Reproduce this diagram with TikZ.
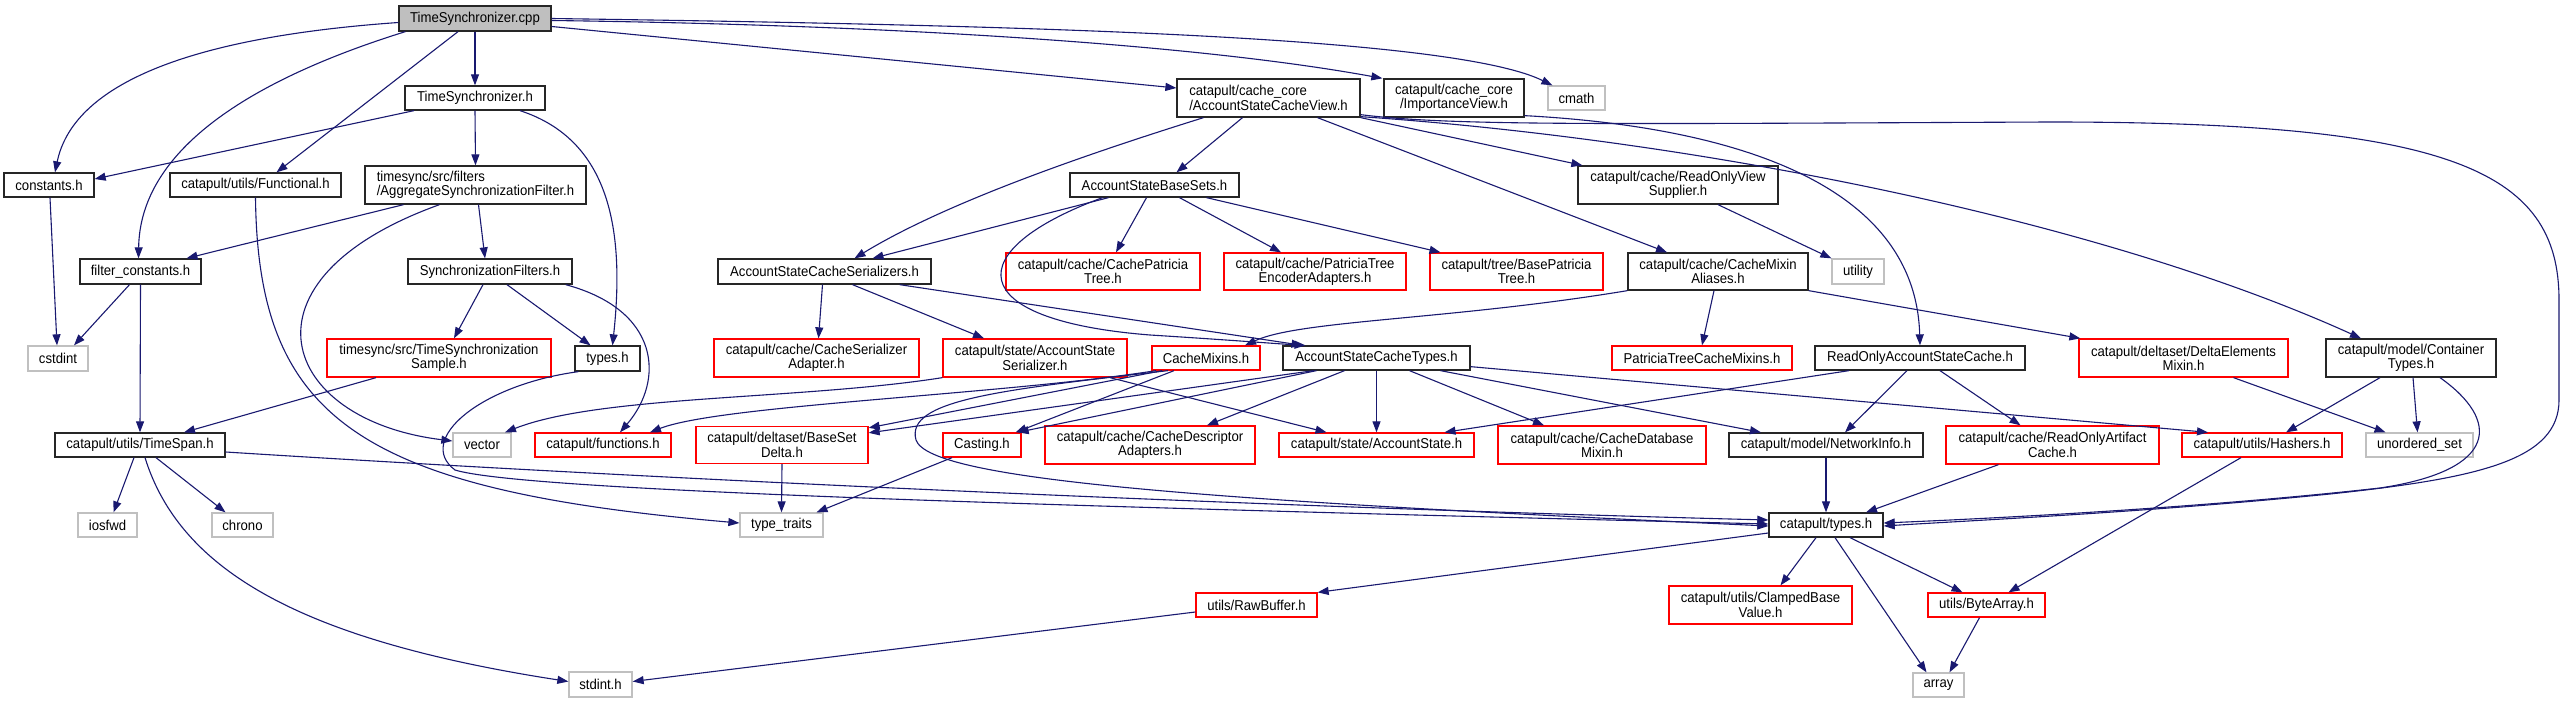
\documentclass[tikz,border=0pt]{standalone}
\usepackage{fontspec}
\setmainfont{Liberation Sans}[FakeStretch=0.92]
\usetikzlibrary{arrows.meta,calc}
\definecolor{edgec}{HTML}{191970}
\definecolor{sysc}{HTML}{C0C0C0}
\definecolor{rootfill}{HTML}{BFBFBF}
\definecolor{redc}{HTML}{FF0000}
\newcommand{\mknode}[7]{\node[#1, minimum width=#5pt, minimum height=#6pt] (#2) at (#3,#4) {#7};}
\begin{document}
\begin{tikzpicture}[x=1pt,y=-1pt,
  box/.style={draw, line width=1.3pt, inner sep=0pt, align=center, font=\fontsize{14.3}{13}\selectfont},
  blk/.style={box, draw=black!85},
  rootbox/.style={box, draw=black!85, fill=rootfill},
  redbox/.style={box, draw=redc},
  sysbox/.style={box, draw=sysc},
  edge/.style={draw=edgec, line width=1.1pt, -{Triangle[length=11pt,width=8pt]}}]
\fill[white] (0,0) rectangle (2566,703);
\useasboundingbox (0,0) rectangle (2566,703);
% nodes
\mknode{rootbox}{cpp}{475}{18.5}{152}{25}{TimeSynchronizer.cpp}
\mknode{blk}{tsh}{475}{98}{140}{24}{TimeSynchronizer.h}
\mknode{blk}{const}{49}{185}{90}{24}{constants.h}
\mknode{blk}{func}{255.5}{185}{171}{24}{catapult/utils/Functional.h}
\mknode{blk,align=left}{agg}{475.5}{185}{221}{38}{timesync/src/filters\\/AggregateSynchronizationFilter.h}
\mknode{blk}{filt}{140.5}{271.5}{121}{25}{filter\_constants.h}
\mknode{blk}{sync}{490}{271.5}{164}{25}{SynchronizationFilters.h}
\mknode{blk}{ser}{824.5}{271.5}{213}{25}{AccountStateCacheSerializers.h}
\mknode{sysbox}{cstdint}{58}{358.5}{60}{25}{cstdint}
\mknode{redbox}{sample}{439}{358}{224}{38}{timesync/src/TimeSynchronization\\Sample.h}
\mknode{blk}{types}{607.5}{358.5}{65}{25}{types.h}
\mknode{redbox}{serad}{816.5}{358}{205}{38}{catapult/cache/CacheSerializer\\Adapter.h}
\mknode{redbox}{asser}{1035}{358}{184}{38}{catapult/state/AccountState\\Serializer.h}
\mknode{blk}{timespan}{140}{445}{170}{24}{catapult/utils/TimeSpan.h}
\mknode{sysbox}{vector}{482}{445}{58}{24}{vector}
\mknode{redbox}{functions}{603}{445}{136}{24}{catapult/functions.h}
\mknode{redbox}{bsd}{782}{445}{172}{37}{catapult/deltaset/BaseSet\\Delta.h}
\mknode{sysbox}{iosfwd}{107.5}{525}{59}{24}{iosfwd}
\mknode{sysbox}{chrono}{242.5}{525}{61}{24}{chrono}
\mknode{sysbox}{typetraits}{781.5}{525}{83}{24}{type\_traits}
\mknode{sysbox}{stdint}{600.5}{684.5}{63}{25}{stdint.h}
\mknode{blk,align=left}{cacheview}{1268.5}{98}{183}{38}{catapult/cache\_core\\/AccountStateCacheView.h}
\mknode{blk}{impview}{1454}{98}{140}{38}{catapult/cache\_core\\/ImportanceView.h}
\mknode{sysbox}{cmath}{1576.5}{98}{57}{24}{cmath}
\mknode{blk}{basesets}{1154.5}{185}{169}{24}{AccountStateBaseSets.h}
\mknode{blk}{rovs}{1678}{185}{200}{38}{catapult/cache/ReadOnlyView\\Supplier.h}
\mknode{redbox}{cpt}{1103}{271.5}{194}{37}{catapult/cache/CachePatricia\\Tree.h}
\mknode{redbox}{pte}{1315}{271.5}{182}{37}{catapult/cache/PatriciaTree\\EncoderAdapters.h}
\mknode{redbox}{bpt}{1516.5}{271.5}{173}{37}{catapult/tree/BasePatricia\\Tree.h}
\mknode{blk}{aliases}{1718}{271.5}{180}{37}{catapult/cache/CacheMixin\\Aliases.h}
\mknode{sysbox}{utility}{1858}{271.5}{52}{25}{utility}
\mknode{redbox}{mixins}{1206}{358}{108}{24}{CacheMixins.h}
\mknode{blk}{astypes}{1376.5}{358}{187}{24}{AccountStateCacheTypes.h}
\mknode{redbox}{ptcm}{1702}{358}{180}{24}{PatriciaTreeCacheMixins.h}
\mknode{blk}{roasc}{1920}{358}{210}{24}{ReadOnlyAccountStateCache.h}
\mknode{redbox}{dem}{2183.5}{358}{209}{38}{catapult/deltaset/DeltaElements\\Mixin.h}
\mknode{blk}{ct}{2411}{358}{170}{38}{catapult/model/Container\\Types.h}
\mknode{redbox}{casting}{982}{445}{78}{24}{Casting.h}
\mknode{redbox}{cda}{1150}{445}{210}{38}{catapult/cache/CacheDescriptor\\Adapters.h}
\mknode{redbox}{as}{1376.5}{445}{195}{24}{catapult/state/AccountState.h}
\mknode{redbox}{cdm}{1602}{445}{208}{38}{catapult/cache/CacheDatabase\\Mixin.h}
\mknode{blk}{ni}{1826}{445}{194}{24}{catapult/model/NetworkInfo.h}
\mknode{redbox}{roac}{2052.5}{445}{213}{38}{catapult/cache/ReadOnlyArtifact\\Cache.h}
\mknode{redbox}{hashers}{2262}{445}{160}{24}{catapult/utils/Hashers.h}
\mknode{sysbox}{uset}{2419.5}{445}{107}{24}{unordered\_set}
\mknode{blk}{ctypes}{1826}{525}{114}{24}{catapult/types.h}
\mknode{redbox}{raw}{1256.5}{605}{121}{24}{utils/RawBuffer.h}
\mknode{redbox}{clamp}{1760.5}{605}{183}{38}{catapult/utils/ClampedBase\\Value.h}
\mknode{redbox}{bytearray}{1986.5}{605}{117}{24}{utils/ByteArray.h}
\mknode{sysbox}{array}{1938.5}{685}{51}{24}{array}
% edges
\draw[edge] ($(cpp.west)+(0,4)$) .. controls (150,40) and (70,100) .. ([xshift=6pt]const.north);
\draw[edge] ([xshift=7pt]cpp.south west) .. controls (250,80) and (140,150) .. ([xshift=-2pt]filt.north);
\draw[edge] ([xshift=-17pt]cpp.south) -- ([xshift=21pt]func.north);
\draw[edge] (cpp.south) -- (tsh.north);
\draw[edge] ($(cpp.east)+(0,8)$) -- ($(cacheview.west)+(0,-10)$);
\draw[edge] ($(cpp.east)+(0,2)$) .. controls (900,25) and (1200,45) .. ([xshift=-1pt]impview.north west);
\draw[edge] (cpp.east) .. controls (1000,25) and (1450,35) .. ([xshift=5pt]cmath.north west);
\draw[edge] ([xshift=-61pt]tsh.south) -- ($(const.east)+(0,-6)$);
\draw[edge] (tsh.south) -- (agg.north);
\draw[edge] ([xshift=45pt]tsh.south) .. controls (610,140) and (625,230) .. ([xshift=5pt]types.north);
\draw[edge] (func.south) .. controls (258,420) and (360,490) .. ($(typetraits.west)+(0,-2)$);
\draw[edge] ([xshift=-72pt]agg.south) -- ([xshift=46pt]filt.north);
\draw[edge] ([xshift=-36pt]agg.south) .. controls (230,280) and (280,420) .. ($(vector.west)+(0,-4)$);
\draw[edge] ([xshift=3pt]agg.south) -- ([xshift=-5pt]sync.north);
\draw[edge] ([xshift=1pt]const.south) -- ([xshift=-1pt]cstdint.north);
\draw[edge] ([xshift=-11pt]filt.south) -- ([xshift=16pt]cstdint.north);
\draw[edge] (filt.south) -- (timespan.north);
\draw[edge] ([xshift=-7pt]sync.south) -- ([xshift=15pt]sample.north);
\draw[edge] ([xshift=17pt]sync.south) -- ([xshift=-17pt]types.north);
\draw[edge] ([xshift=-7pt]sync.south east) .. controls (660,310) and (665,380) .. ([xshift=17pt]functions.north);
\draw[edge] ([xshift=-63pt]sample.south) -- ([xshift=44pt]timespan.north);
\draw[edge] ([xshift=4pt]types.south west) .. controls (480,385) and (415,440) .. (455,470) .. controls (520,490) and (1000,505) .. ($(ctypes.west)+(0,-1)$);
\draw[edge] ([xshift=-6pt]timespan.south) -- ([xshift=6pt]iosfwd.north);
\draw[edge] ([xshift=16pt]timespan.south) -- ([xshift=-17pt]chrono.north);
\draw[edge] ([xshift=5pt]timespan.south) .. controls (180,570) and (300,640) .. ($(stdint.west)+(0,-3)$);
\draw[edge] ($(timespan.east)+(0,7)$) .. controls (700,482) and (1300,508) .. ($(ctypes.west)+(0,-5)$);
\draw[edge] ([xshift=-65pt]cacheview.south) .. controls (1100,150) and (950,200) .. ([xshift=30pt]ser.north);
\draw[edge] ([xshift=-26pt]cacheview.south) -- ([xshift=22pt]basesets.north);
\draw[edge] ([xshift=49pt]cacheview.south) -- ([xshift=-51pt]aliases.north);
\draw[edge] (cacheview.south east) -- ([xshift=5pt]rovs.north west);
\draw[edge] ($(cacheview.south east)+(0,-3)$) .. controls (1450,126) and (1600,124) .. (2050,122) .. controls (2450,122) and (2559,170) .. (2559,300) -- (2559,400) .. controls (2559,460) and (2480,478) .. (2330,494) .. controls (2150,512) and (1980,520) .. ($(ctypes.east)+(0,1)$);
\draw[edge] ($(cacheview.south east)+(0,-1)$) .. controls (1700,140) and (2100,220) .. ([xshift=-50pt]ct.north);
\draw[edge] ($(impview.south east)+(0,-2)$) .. controls (1700,125) and (1915,170) .. (roasc.north);
\draw[edge] ([xshift=-46pt]basesets.south) -- ([xshift=48pt]ser.north);
\draw[edge] ([xshift=-52pt]basesets.south) .. controls (960,250) and (960,320) .. (1150,335) .. controls (1230,340) and (1280,344) .. ([xshift=-71pt]astypes.north);
\draw[edge] ([xshift=-8pt]basesets.south) -- ([xshift=13pt]cpt.north);
\draw[edge] ([xshift=25pt]basesets.south) -- ([xshift=-34pt]pte.north);
\draw[edge] ([xshift=52pt]basesets.south) -- ([xshift=-76pt]bpt.north);
\draw[edge] ([xshift=-2pt]ser.south) -- ([xshift=2pt]serad.north);
\draw[edge] ([xshift=28pt]ser.south) -- ([xshift=-51pt]asser.north);
\draw[edge] ([xshift=-32pt]ser.south east) -- ([xshift=-74pt]astypes.north);
\draw[edge] ([xshift=40pt]rovs.south) -- (utility.north west);
\draw[edge] (aliases.south west) .. controls (1450,320) and (1300,320) .. ([xshift=39pt]mixins.north);
\draw[edge] ([xshift=-4pt]aliases.south) -- (ptcm.north);
\draw[edge] (aliases.south east) -- ([xshift=2pt]dem.north west);
\draw[edge] ([xshift=-50pt]mixins.south) .. controls (1000,395) and (720,405) .. ([xshift=47pt]functions.north);
\draw[edge] ([xshift=-44pt]mixins.south) -- ($(bsd.north east)+(0,2)$);
\draw[edge] ([xshift=-32pt]mixins.south) -- ([xshift=-6pt]casting.north east);
\draw[edge] ([xshift=-38pt]mixins.south) .. controls (1000,390) and (905,400) .. (916,440) .. controls (930,480) and (1200,500) .. ($(ctypes.west)+(0,1)$);
\draw[edge] ([xshift=-63pt]astypes.south) -- ($(bsd.north east)+(0,7)$);
\draw[edge] ([xshift=-60pt]astypes.south) -- ([xshift=-4pt]casting.north east);
\draw[edge] ([xshift=-32pt]astypes.south) -- ([xshift=57pt]cda.north);
\draw[edge] (astypes.south) -- (as.north);
\draw[edge] ([xshift=33pt]astypes.south) -- ([xshift=-58pt]cdm.north);
\draw[edge] ([xshift=64pt]astypes.south) -- ([xshift=-65pt]ni.north);
\draw[edge] ($(astypes.south east)+(0,-4)$) -- ([xshift=-54pt]hashers.north);
\draw[edge] (asser.south west) .. controls (800,400) and (600,395) .. ([xshift=23pt]vector.north);
\draw[edge] ([xshift=75pt]asser.south) -- ([xshift=-50pt]as.north);
\draw[edge] ([xshift=-71pt]roasc.south) -- ([xshift=68pt]as.north);
\draw[edge] ([xshift=-13pt]roasc.south) -- ([xshift=19pt]ni.north);
\draw[edge] ([xshift=20pt]roasc.south) -- ([xshift=-32pt]roac.north);
\draw[edge] ([xshift=50pt]dem.south) -- ([xshift=-34pt]uset.north);
\draw[edge] ([xshift=-31pt]ct.south) -- ([xshift=24pt]hashers.north);
\draw[edge] ([xshift=2pt]ct.south) -- ([xshift=-2pt]uset.north);
\draw[edge] ([xshift=29pt]ct.south) .. controls (2500,420) and (2500,470) .. (2380,488) .. controls (2200,508) and (2000,518) .. ($(ctypes.east)+(0,-2)$);
\draw[edge] (ni.south) -- (ctypes.north);
\draw[edge] ([xshift=-54pt]roac.south) -- ([xshift=40pt]ctypes.north);
\draw[edge] ([xshift=-21pt]hashers.south) -- ([xshift=22pt]bytearray.north);
\draw[edge] ($(ctypes.west)+(0,8)$) -- (raw.north east);
\draw[edge] ([xshift=-10pt]ctypes.south) -- ([xshift=20pt]clamp.north);
\draw[edge] ([xshift=9pt]ctypes.south) -- ([xshift=-12pt]array.north);
\draw[edge] ([xshift=24pt]ctypes.south) -- ([xshift=-24pt]bytearray.north);
\draw[edge] ([xshift=-7pt]bytearray.south) -- ([xshift=11pt]array.north);
\draw[edge] ($(raw.west)+(0,7)$) -- ($(stdint.east)+(0,-3)$);
\draw[edge] ([xshift=-30pt]casting.south) -- ([xshift=35pt]typetraits.north);
\draw[edge] (bsd.south) -- (typetraits.north);
\end{tikzpicture}
\end{document}
